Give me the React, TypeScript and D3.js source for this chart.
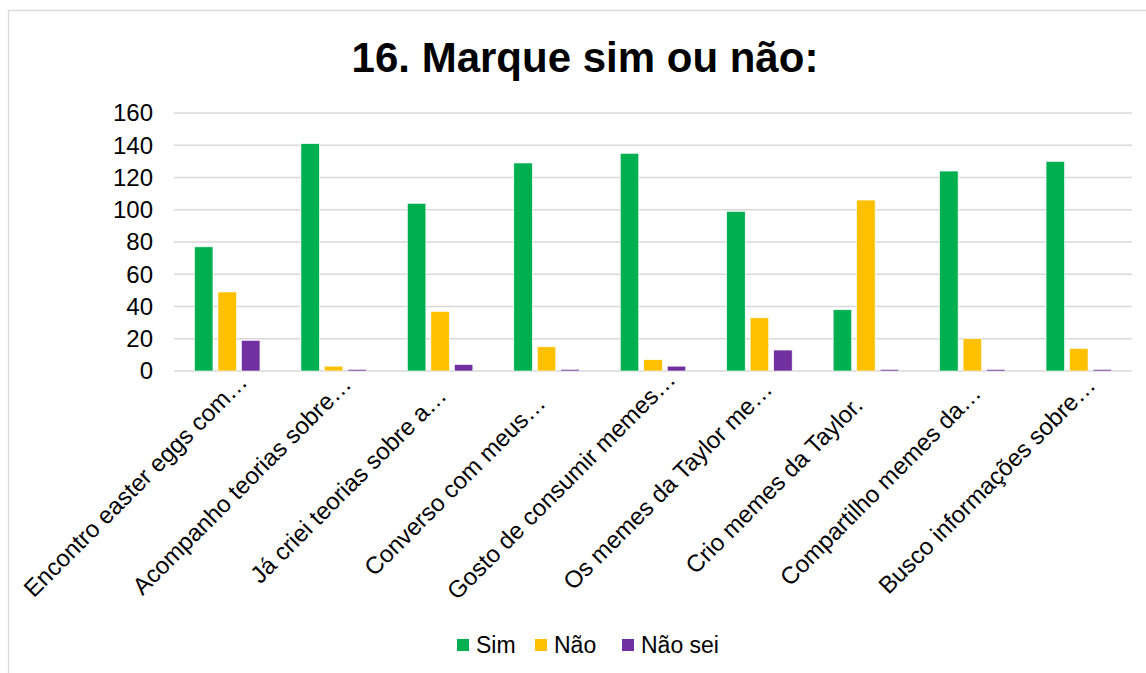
import React from "react";
import * as d3 from "d3";

const categories = [
  "Encontro easter eggs com…",
  "Acompanho teorias sobre…",
  "Já criei teorias sobre a…",
  "Converso com meus…",
  "Gosto de consumir memes…",
  "Os memes da Taylor me…",
  "Crio memes da Taylor.",
  "Compartilho memes da…",
  "Busco informações sobre…",
];
const seriesNames = ["Sim", "Não", "Não sei"];
const simValues = [77, 141, 104, 129, 135, 99, 38, 124, 130];
const naoValues = [49, 3, 37, 15, 7, 33, 106, 20, 14];
const naoSeiValues = [19, 1, 4, 1, 3, 13, 1, 1, 1];
const yTicks = [0, 20, 40, 60, 80, 100, 120, 140, 160];
const colors = ["#00B050", "#FFC000", "#7030A0"];
const title = "16. Marque sim ou não:";

const FONT = "'Liberation Sans', Arial, Helvetica, sans-serif";

export default function App() {
  const W = 1146;
  const H = 673;
  const left = 174;
  const right = 1132;
  const top = 113;
  const bottom = 371;

  const values = [simValues, naoValues, naoSeiValues];

  const x0 = d3.scaleBand<string>().domain(categories).range([left, right]).paddingInner(0).paddingOuter(0);
  const bw = x0.bandwidth();
  const groupW = bw * 0.615;
  const x1 = d3
    .scaleBand<string>()
    .domain(seriesNames)
    .range([(bw - groupW) / 2, (bw + groupW) / 2])
    .paddingInner(0.213)
    .paddingOuter(0);
  const y = d3.scaleLinear().domain([0, 160]).range([bottom, top]);

  const tickFont = 24;
  const catFont = 24;
  const legendFont = 23;
  const legendX = [457, 535, 622];

  return (
    <svg
      width={W}
      height={H}
      style={{ position: "absolute", left: 0, top: 0, background: "#fff" }}
      fontFamily={FONT}
    >
      <rect x={0} y={0} width={W} height={H} fill="#fff" />
      <rect x={8.5} y={10.5} width={1160} height={700} fill="#fff" stroke="#D9D9D9" strokeWidth={1.3} />
      <text x={585} y={72} textAnchor="middle" fontSize={42} fontWeight="bold" fill="#000">
        {title}
      </text>
      {yTicks.map((t) => (
        <g key={t}>
          <line x1={left} x2={right} y1={y(t)} y2={y(t)} stroke="#D9D9D9" strokeWidth={1.5} />
          <text x={153} y={y(t)} dy="0.35em" textAnchor="end" fontSize={tickFont} fill="#000">
            {t}
          </text>
        </g>
      ))}
      {categories.map((c, i) => (
        <g key={c} transform={`translate(${x0(c)},0)`}>
          {seriesNames.map((s, k) => {
            const v = values[k][i];
            return (
              <rect
                key={s}
                x={x1(s)}
                y={y(v)}
                width={x1.bandwidth()}
                height={y(0) - y(v)}
                fill={colors[k]}
                stroke="#fff"
                strokeWidth={0.6}
              />
            );
          })}
        </g>
      ))}
      {categories.map((c) => {
        const cx = (x0(c) as number) + bw / 2;
        const px = cx - 86;
        const py = bottom + 120;
        return (
          <text
            key={c}
            x={px}
            y={py}
            transform={`rotate(-45 ${px} ${py})`}
            textAnchor="middle"
            fontSize={catFont}
            fill="#000"
          >
            {c}
          </text>
        );
      })}
      {seriesNames.map((s, k) => (
        <g key={s}>
          <rect x={legendX[k]} y={639} width={12} height={12} fill={colors[k]} />
          <text x={legendX[k] + 19} y={653} fontSize={legendFont} fill="#000">
            {s}
          </text>
        </g>
      ))}
    </svg>
  );
}
